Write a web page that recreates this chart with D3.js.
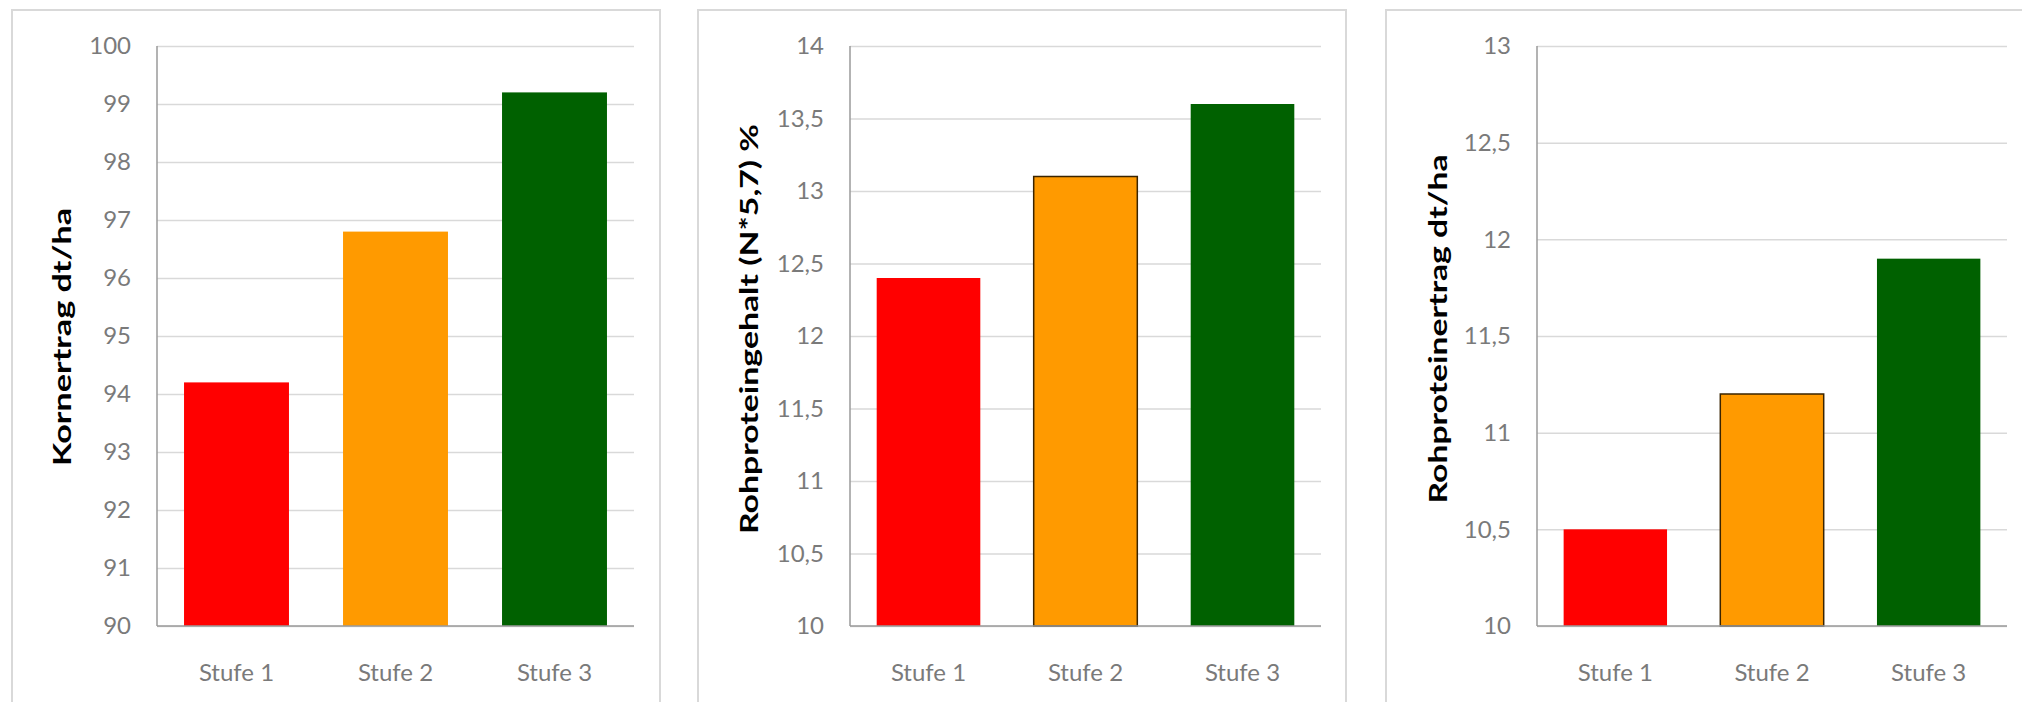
<!DOCTYPE html>
<html><head><meta charset="utf-8">
<script src="https://cdn.jsdelivr.net/npm/d3@7"></script>
<style>body{margin:0;background:#fff}svg{display:block}</style>
</head><body><svg id="c" width="2022" height="702"></svg>
<script>
const categories = ["Stufe 1","Stufe 2","Stufe 3"];
const barColors = ["#ff0000","#ff9a00","#006100"];
const kornertrag = [94.2, 96.8, 99.2];
const rpGehalt = [12.4, 13.1, 13.6];
const rpErtrag = [10.5, 11.2, 11.9];
const ticksKorn = [90,91,92,93,94,95,96,97,98,99,100];
const ticksGehalt = [10,10.5,11,11.5,12,12.5,13,13.5,14];
const ticksErtrag = [10,10.5,11,11.5,12,12.5,13];
const titles = ["Kornertrag dt/ha","Rohproteingehalt (N*5,7) %","Rohproteinertrag dt/ha"];

const panels = [
  {vals:kornertrag, ticks:ticksKorn, title:titles[0], frameX:12, axisX:157, plotW:477, labX:62, labY:337, labLen:258, outline:false},
  {vals:rpGehalt, ticks:ticksGehalt, title:titles[1], frameX:698, axisX:850, plotW:471, labX:749, labY:329, labLen:410, outline:true},
  {vals:rpErtrag, ticks:ticksErtrag, title:titles[2], frameX:1386, axisX:1537, plotW:470, labX:1438, labY:329, labLen:349, outline:true}
];
const plotTop = 46, plotBottom = 626;
const fmt = v => String(v).replace(".", ",");
const svg = d3.select("#c");

panels.forEach(p => {
  const g = svg.append("g");
  g.append("rect").attr("x", p.frameX).attr("y", 10).attr("width", 648).attr("height", 720)
    .attr("fill", "#fff").attr("stroke", "#d9d9d9").attr("stroke-width", 2);
  const y = d3.scaleLinear().domain([p.ticks[0], p.ticks[p.ticks.length-1]]).range([plotBottom, plotTop]);
  const x = d3.scaleBand().domain(categories).range([p.axisX, p.axisX + p.plotW]).paddingInner(0.34).paddingOuter(0.17);
  g.append("g").attr("transform", `translate(${p.axisX},0)`)
    .call(d3.axisLeft(y).tickValues(p.ticks).tickSize(-p.plotW).tickFormat(""))
    .call(a => a.select(".domain").remove())
    .call(a => a.selectAll("line").attr("stroke", "#d9d9d9").attr("stroke-width", 1.5));
  g.append("g").attr("transform", `translate(${p.axisX},0)`)
    .call(d3.axisLeft(y).tickValues(p.ticks).tickSize(0).tickPadding(26).tickFormat(fmt))
    .call(a => a.select(".domain").remove())
    .call(a => a.selectAll("text").attr("fill", "#7a7a7a").attr("font-family", "Lato, sans-serif").attr("font-size", 24));
  g.selectAll("rect.bar").data(p.vals).join("rect").attr("class", "bar")
    .attr("x", (d,i) => x(categories[i])).attr("width", x.bandwidth())
    .attr("y", d => y(d)).attr("height", d => y(p.ticks[0]) - y(d))
    .attr("fill", (d,i) => barColors[i])
    .attr("stroke", (d,i) => (p.outline && i === 1) ? "#3a2400" : "none")
    .attr("stroke-width", 1.5);
  g.append("line").attr("x1", p.axisX).attr("x2", p.axisX).attr("y1", plotTop).attr("y2", plotBottom)
    .attr("stroke", "#9a9a9a").attr("stroke-width", 1.5);
  g.append("line").attr("x1", p.axisX).attr("x2", p.axisX + p.plotW).attr("y1", plotBottom).attr("y2", plotBottom)
    .attr("stroke", "#9a9a9a").attr("stroke-width", 1.5);
  g.append("g").attr("transform", `translate(0,${plotBottom})`)
    .call(d3.axisBottom(x).tickSize(0).tickPadding(38))
    .call(a => a.select(".domain").remove())
    .call(a => a.selectAll("text").attr("fill", "#7a7a7a").attr("font-family", "Lato, sans-serif").attr("font-size", 24));
  g.append("text").attr("transform", `translate(${p.labX},${p.labY}) rotate(-90)`)
    .attr("text-anchor", "middle").attr("dy", "0.35em")
    .attr("font-family", "Lato, sans-serif").attr("font-weight", "bold").attr("font-size", 25)
    .attr("fill", "#000").attr("textLength", p.labLen).attr("lengthAdjust", "spacingAndGlyphs")
    .text(p.title);
});
</script></body></html>
